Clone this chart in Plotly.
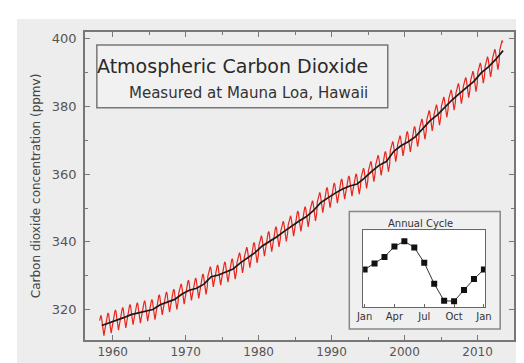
import plotly.graph_objects as go

# ---- data ----
years = list(range(1958, 2014))
annual_mean = [315.3, 316.0, 316.9, 317.6, 318.5, 319.0, 319.6, 320.0, 321.4, 322.2,
               323.0, 324.6, 325.7, 326.3, 327.5, 329.7, 330.2, 331.1, 332.0, 333.8,
               335.4, 336.8, 338.8, 340.1, 341.5, 343.1, 344.7, 346.1, 347.4, 349.2,
               351.6, 353.1, 354.4, 355.6, 356.5, 357.1, 358.8, 360.8, 362.6, 363.7,
               366.7, 368.4, 369.6, 371.1, 373.3, 375.8, 377.5, 379.8, 381.9, 383.8,
               385.6, 387.4, 389.9, 391.7, 393.9, 396.5]
# seasonal cycle (ppm deviation), Jan .. Jan (inset)
cycle_months = ["Jan", "Feb", "Mar", "Apr", "May", "Jun", "Jul", "Aug", "Sep", "Oct", "Nov", "Dec", "Jan"]
cycle_values = [0.17, 0.78, 1.43, 2.49, 3.0, 2.39, 0.85, -1.26, -2.97, -3.0, -1.88, -0.78, 0.17]
first_month = 2   # March 1958
last_month = 5    # June 2013

x_ticks = [1960, 1970, 1980, 1990, 2000, 2010]
y_ticks = [320, 340, 360, 380, 400]
inset_ticks = [0, 3, 6, 9, 12]
inset_labels = ["Jan", "Apr", "Jul", "Oct", "Jan"]

# monthly series from the annual means and the seasonal cycle
mx, my = [], []
for i, yr in enumerate(years):
    for m in range(12):
        if yr == years[0] and m < first_month:
            continue
        if yr == years[-1] and m > last_month:
            continue
        mx.append(yr + (m + 0.5) / 12)
        my.append(annual_mean[i] + cycle_values[m])
tx = [y + 0.5 for y in years]

W, H = 524, 363
L, R, T, B = 77, 12, 24, 30
PW, PH = W - L - R, H - T - B


def px(x):
    return (x - L) / PW


def py(y):
    return (H - B - y) / PH


FONT = "DejaVu Sans, Liberation Sans, sans-serif"
BG = "#ededed"

fig = go.Figure()
fig.add_trace(go.Scatter(x=mx, y=my, mode="lines", line=dict(color="#e8251d", width=1.2),
                         hoverinfo="skip", showlegend=False))
fig.add_trace(go.Scatter(x=tx, y=annual_mean, mode="lines", line=dict(color="#1a1a1a", width=1.7),
                         showlegend=False))
fig.add_trace(go.Scatter(x=list(range(len(cycle_values))), y=cycle_values, mode="lines+markers",
                         line=dict(color="#333", width=1),
                         marker=dict(color="#111", size=6, symbol="square"),
                         xaxis="x2", yaxis="y2", showlegend=False))

shapes = [
    dict(type="rect", xref="paper", yref="paper", x0=px(8), x1=px(524), y0=py(11), y1=py(363),
         fillcolor=BG, line=dict(width=0), layer="below"),
    dict(type="rect", xref="paper", yref="paper", x0=px(89), x1=px(384), y0=py(37), y1=py(100),
         fillcolor="#f1f1f1", line=dict(color="#777", width=1.5), layer="below"),
    dict(type="rect", xref="paper", yref="paper", x0=px(345), x1=px(498), y0=py(204), y1=py(322),
         fillcolor="#f0f0f0", line=dict(color="#888", width=1.5), layer="below"),
    dict(type="rect", xref="paper", yref="paper", x0=px(359), x1=px(483), y0=py(223), y1=py(300),
         fillcolor="white", line=dict(width=0), layer="below"),
]

annotations = [
    dict(text="Atmospheric Carbon Dioxide", xref="paper", yref="paper", x=px(227), y=py(58),
         xanchor="center", yanchor="middle", showarrow=False,
         font=dict(family=FONT, size=19, color="#2a2a2a")),
    dict(text="Measured at Mauna Loa, Hawaii", xref="paper", yref="paper", x=px(366), y=py(85),
         xanchor="right", yanchor="middle", showarrow=False,
         font=dict(family=FONT, size=15, color="#333")),
    dict(text="Carbon dioxide concentration (ppmv)", xref="paper", yref="paper", x=px(27), y=py(178),
         xanchor="center", yanchor="middle", textangle=-90, showarrow=False,
         font=dict(family=FONT, size=12, color="#444")),
    dict(text="Annual Cycle", xref="paper", yref="paper", x=px(417), y=py(216),
         xanchor="center", yanchor="middle", showarrow=False,
         font=dict(family=FONT, size=10, color="#333")),
]

axis_common = dict(showline=True, linecolor="#777", linewidth=1.5, mirror="ticks", ticks="inside",
                   ticklen=5, tickcolor="#777", showgrid=False, zeroline=False)

fig.update_layout(
    width=W, height=H, autosize=False,
    margin=dict(l=L, r=R, t=T, b=B),
    paper_bgcolor="white", plot_bgcolor="rgba(0,0,0,0)",
    shapes=shapes, annotations=annotations,
    xaxis=dict(range=[1956.2, 2015], tickvals=x_ticks, domain=[0, 1],
               tickfont=dict(family=FONT, size=12, color="#555"),
               minor=dict(dtick=5, tick0=1955, ticks="inside", ticklen=3, tickcolor="#777"),
               **axis_common),
    yaxis=dict(range=[311, 402], tickvals=y_ticks, domain=[0, 1], ticklabelstandoff=4,
               tickfont=dict(family=FONT, size=13, color="#555"),
               minor=dict(dtick=10, tick0=310, ticks="inside", ticklen=3, tickcolor="#777"),
               **axis_common),
    xaxis2=dict(domain=[px(359), px(483)], anchor="y2", range=[-0.15, 12.15],
                tickvals=inset_ticks, ticktext=inset_labels, showline=True, mirror=True,
                linecolor="#666", linewidth=1, ticks="inside", ticklen=3, tickcolor="#666",
                showgrid=False, zeroline=False,
                tickfont=dict(family=FONT, size=10, color="#333")),
    yaxis2=dict(domain=[py(300), py(223)], anchor="x2", range=[-3.6, 4.1],
                showline=True, mirror=True, linecolor="#666", linewidth=1,
                showticklabels=False, ticks="", showgrid=False, zeroline=False),
)

fig.write_html("out.html")
